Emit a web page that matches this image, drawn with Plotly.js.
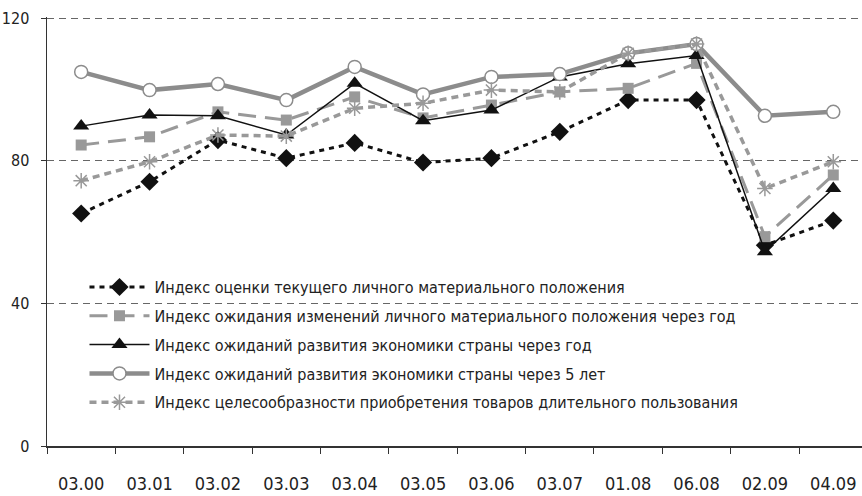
<!DOCTYPE html>
<html>
<head>
<meta charset="utf-8">
<script src="https://cdn.plot.ly/plotly-3.0.1.min.js"></script>
<style>html,body{margin:0;padding:0;background:#fff}#chart{width:862px;height:496px}</style>
</head>
<body>
<div id="chart"></div>
<script>
const categories = ["03.00","03.01","03.02","03.03","03.04","03.05","03.06","03.07","01.08","06.08","02.09","04.09"];
const currentIndex   = [65.2, 74.1, 85.8, 80.7, 85.0, 79.5, 80.7, 88.1, 97.0, 97.0, 56.3, 63.2];
const personalYear   = [84.4, 86.7, 93.7, 91.4, 97.9, 92.0, 95.6, 99.3, 100.3, 107.3, 58.7, 76.0];
const economyYear    = [89.7, 92.8, 92.6, 87.2, 101.7, 91.2, 94.2, 103.5, 107.2, 109.5, 54.5, 72.2];
const economy5Years  = [104.9, 99.8, 101.5, 97.0, 106.3, 98.6, 103.5, 104.3, 110.1, 112.7, 92.6, 93.7];
const durableGoods   = [74.4, 79.7, 87.2, 86.9, 94.7, 96.1, 99.8, 99.3, 110.1, 112.7, 72.2, 79.7];
const seriesNames = [
  "Индекс оценки текущего личного материального положения",
  "Индекс ожидания изменений личного материального положения через год",
  "Индекс ожиданий развития экономики страны через год",
  "Индекс ожиданий развития экономики страны через 5 лет",
  "Индекс целесообразности приобретения товаров длительного пользования"
];
const yTicks = [0, 40, 80, 120];

const FONT = "'DejaVu Sans Condensed', 'Liberation Sans Narrow', Arial, sans-serif";

const traces = [
  {x: categories, y: currentIndex, name: seriesNames[0], legendgroup: "g1", mode: "lines+markers",
   line: {color: "#111", width: 3, dash: "5px,5px"},
   marker: {symbol: "diamond", size: 14, color: "#111"}},
  {x: categories, y: personalYear, name: seriesNames[1], legendgroup: "g2", mode: "lines+markers",
   line: {color: "#999", width: 3, dash: "18px,9px"},
   marker: {symbol: "square", size: 11, color: "#999"}},
  {x: categories, y: economyYear, name: seriesNames[2], legendgroup: "g3", mode: "lines+markers",
   line: {color: "#111", width: 1.5},
   marker: {symbol: "triangle-up", size: 14, color: "#111"}},
  {x: categories, y: economy5Years, name: seriesNames[3], legendgroup: "g4", mode: "lines+markers",
   line: {color: "#8c8c8c", width: 4.5},
   marker: {symbol: "circle", size: 13, color: "#fff", line: {color: "#8c8c8c", width: 1.5}}},
  {x: categories, y: durableGoods, name: seriesNames[4], legendgroup: "g5", mode: "lines+markers",
   line: {color: "#999", width: 3.5, dash: "7px,5px"},
   marker: {symbol: "asterisk-open", size: 13, color: "#999", line: {color: "#999", width: 1.5}}}
];

const layout = {
  width: 862, height: 496,
  margin: {l: 47, r: 0, t: 17, b: 50, pad: 0},
  paper_bgcolor: "#fff", plot_bgcolor: "#fff",
  font: {family: FONT, size: 16, color: "#222"},
  showlegend: true,
  legend: {x: 0.046, y: 0.41, xanchor: "left", yanchor: "top", bgcolor: "rgba(0,0,0,0)",
           font: {family: FONT, size: 16, color: "#222"}, itemwidth: 60,
           traceorder: "grouped", tracegroupgap: 5, itemclick: false},
  xaxis: {type: "category", range: [-0.5, 11.42], showgrid: false, zeroline: false,
          showline: true, linecolor: "#333", linewidth: 1.5,
          ticks: "outside", ticklen: 6, tickcolor: "#333", tickson: "boundaries",
          ticklabelstandoff: 21, tickfont: {family: FONT, size: 18, color: "#222"}},
  yaxis: {range: [0, 120.3], tickvals: yTicks, ticktext: yTicks.map(String),
          showgrid: true, gridcolor: "#666", gridwidth: 1, griddash: "7px,5px",
          zeroline: false, showline: true, linecolor: "#333", linewidth: 1.5,
          ticks: "outside", ticklen: 5, tickcolor: "#333", ticklabelstandoff: 8,
          tickfont: {family: FONT, size: 16, color: "#222"}}
};

Plotly.newPlot("chart", traces, layout, {displayModeBar: false, staticPlot: true});
</script>
</body>
</html>
